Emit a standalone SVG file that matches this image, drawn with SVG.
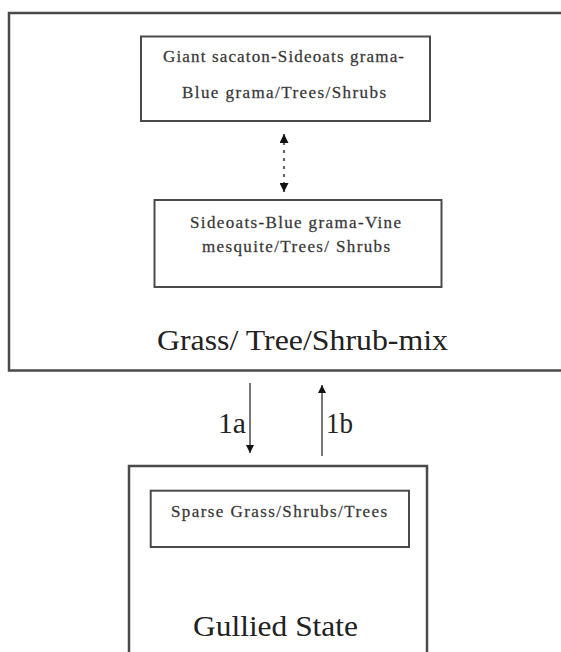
<svg xmlns="http://www.w3.org/2000/svg" width="561" height="652" viewBox="0 0 561 652">
<style>
.box{fill:none;stroke:#4a4a4a;stroke-width:2}
.outer{fill:none;stroke:#4a4a4a;stroke-width:2.5}
.sm{font-family:"Liberation Serif","Times New Roman",serif;font-size:17px;fill:#2e2e2e;stroke:#555;stroke-width:0.3;text-anchor:start}
.lg{font-family:"Liberation Serif","Times New Roman",serif;font-size:29px;fill:#222}
.conn{stroke:#555;stroke-width:1.6;fill:none}
.dot{stroke:#666;stroke-width:2.2;stroke-dasharray:3 5;fill:none}
</style>
<defs>
<marker id="ah" viewBox="0 0 10 10" refX="10" refY="5" markerWidth="9" markerHeight="8" markerUnits="userSpaceOnUse" orient="auto">
<path d="M0,0 L10,5 L0,10 z" fill="#111"/>
</marker>
<marker id="ahb" viewBox="0 0 10 10" refX="10" refY="5" markerWidth="11" markerHeight="9" markerUnits="userSpaceOnUse" orient="auto-start-reverse">
<path d="M0,0 L10,5 L0,10 z" fill="#111"/>
</marker>
</defs>
<rect width="561" height="652" fill="#fff"/>
<g id="grass-tree-shrub-mix">
<rect class="outer" x="9" y="13" width="580" height="357.5"/>
<text class="lg" x="157" y="350" textLength="291" lengthAdjust="spacingAndGlyphs">Grass/ Tree/Shrub-mix</text>
</g>
<g id="giant-sacaton">
<rect class="box" x="141" y="36.5" width="289" height="84.5"/>
<text class="sm" x="163" y="62" textLength="241" lengthAdjust="spacing">Giant sacaton-Sideoats grama-</text>
<text class="sm" x="182" y="98" textLength="204" lengthAdjust="spacing">Blue grama/Trees/Shrubs</text>
</g>
<g id="sideoats-blue-grama">
<rect class="box" x="154.5" y="200" width="287" height="87"/>
<text class="sm" x="190" y="228" textLength="211" lengthAdjust="spacing">Sideoats-Blue grama-Vine</text>
<text class="sm" x="202" y="252" textLength="188" lengthAdjust="spacing">mesquite/Trees/ Shrubs</text>
</g>
<g id="gullied-state">
<rect class="outer" x="129" y="466" width="298" height="200"/>
<text class="lg" x="193" y="636" textLength="165" lengthAdjust="spacingAndGlyphs">Gullied State</text>
</g>
<g id="sparse-grass">
<rect class="box" x="150.7" y="490.7" width="258.3" height="56.3"/>
<text class="sm" x="171" y="517" textLength="216" lengthAdjust="spacing">Sparse Grass/Shrubs/Trees</text>
</g>
<g id="connectors">
<line class="dot" x1="284" y1="134" x2="284" y2="192" marker-start="url(#ahb)" marker-end="url(#ahb)"/>
<line class="conn" x1="250" y1="383" x2="250" y2="453" marker-end="url(#ah)"/>
<line class="conn" x1="322" y1="456" x2="322" y2="385" marker-end="url(#ah)"/>
<text class="lg" x="218" y="433" textLength="28" lengthAdjust="spacingAndGlyphs">1a</text>
<text class="lg" x="326" y="433" textLength="27" lengthAdjust="spacingAndGlyphs">1b</text>
</g>
</svg>
